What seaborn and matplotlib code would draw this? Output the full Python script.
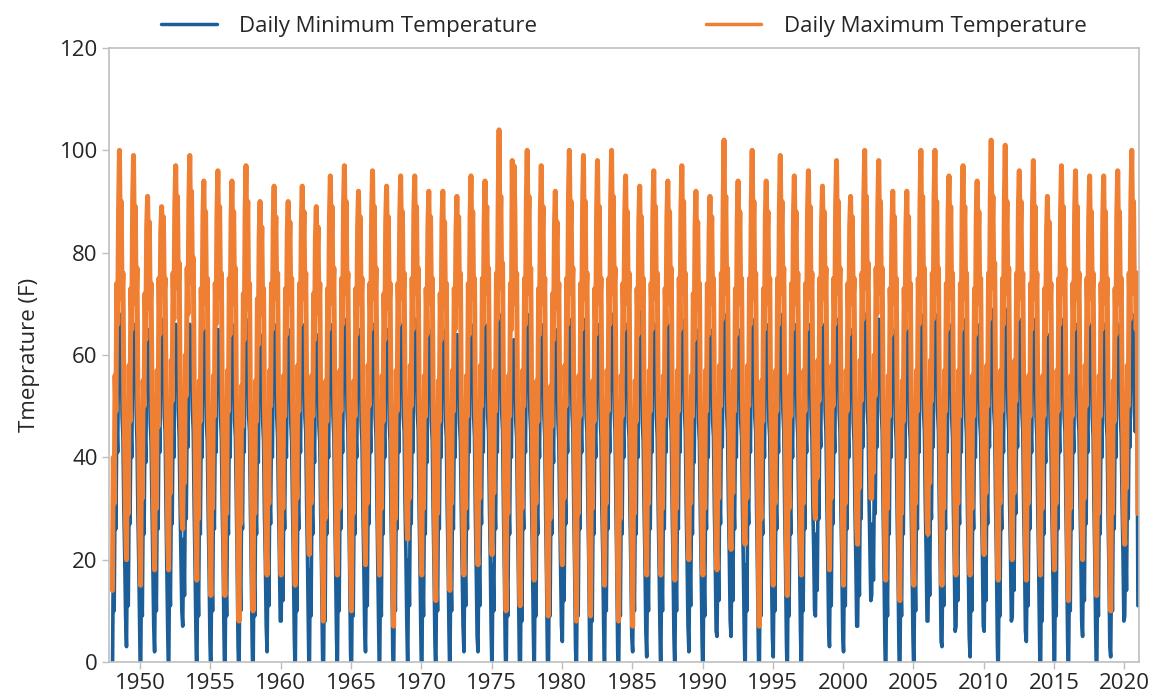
import pandas as pd
import seaborn as sns
import matplotlib.pyplot as plt
import matplotlib.dates as mdates

# years covered, 16 readings per year (deg F)
years = list(range(1948, 2021))
samples_per_year = 16

tmax_rows = [
    [14, 40, 31, 56, 49, 74, 66, 88, 100, 82, 90, 71, 76, 52, 41, 27],  # 1948
    [20, 42, 29, 58, 47, 73, 65, 90, 99, 80, 89, 70, 77, 50, 43, 25],
    [15, 38, 32, 55, 50, 72, 63, 85, 91, 79, 86, 69, 74, 53, 40, 28],
    [18, 41, 30, 57, 46, 75, 64, 84, 89, 81, 87, 72, 75, 51, 42, 24],
    [18, 43, 33, 59, 51, 76, 67, 89, 97, 83, 91, 73, 78, 54, 44, 29],
    [26, 44, 35, 60, 52, 77, 68, 90, 99, 84, 92, 74, 79, 55, 45, 26],
    [16, 39, 28, 55, 47, 73, 65, 87, 94, 80, 88, 70, 75, 50, 39, 23],
    [13, 37, 30, 56, 48, 74, 66, 88, 96, 82, 89, 71, 76, 52, 41, 22],
    [13, 40, 29, 57, 49, 75, 64, 86, 94, 81, 88, 70, 77, 53, 40, 20],
    [8, 36, 27, 54, 46, 72, 63, 88, 97, 80, 90, 69, 74, 51, 38, 21],
    [10, 38, 29, 55, 47, 71, 62, 83, 90, 78, 85, 68, 73, 50, 40, 24],  # 1958
    [17, 41, 31, 57, 50, 74, 65, 86, 93, 81, 87, 71, 76, 52, 42, 25],
    [17, 40, 30, 56, 48, 73, 64, 84, 90, 79, 86, 70, 75, 51, 41, 23],
    [15, 39, 32, 58, 49, 74, 66, 86, 93, 80, 88, 71, 76, 53, 43, 27],
    [21, 42, 31, 56, 48, 72, 63, 83, 89, 78, 85, 68, 74, 50, 39, 20],
    [8, 35, 28, 55, 47, 73, 65, 87, 95, 81, 89, 70, 77, 52, 40, 22],
    [17, 40, 30, 57, 49, 75, 66, 89, 97, 82, 90, 72, 76, 53, 41, 19],
    [10, 37, 29, 55, 48, 73, 64, 85, 92, 80, 87, 70, 75, 51, 42, 26],
    [19, 42, 31, 58, 50, 74, 65, 88, 96, 81, 89, 71, 77, 52, 40, 24],
    [17, 39, 30, 56, 47, 72, 63, 86, 93, 79, 87, 69, 74, 50, 39, 18],
    [7, 36, 28, 57, 49, 74, 66, 87, 95, 82, 88, 71, 76, 53, 44, 28],  # 1968
    [24, 43, 32, 58, 50, 75, 65, 88, 95, 81, 89, 72, 77, 52, 41, 23],
    [17, 40, 30, 56, 48, 73, 64, 85, 92, 80, 87, 70, 75, 51, 40, 21],
    [12, 38, 29, 55, 47, 72, 63, 86, 92, 79, 86, 69, 74, 50, 42, 24],
    [14, 39, 31, 57, 49, 73, 65, 84, 91, 80, 87, 70, 76, 52, 41, 25],
    [17, 41, 30, 56, 48, 74, 64, 87, 95, 81, 88, 71, 75, 51, 40, 23],
    [19, 42, 32, 58, 50, 75, 66, 86, 94, 82, 89, 72, 77, 53, 43, 26],
    [21, 43, 33, 57, 49, 76, 67, 90, 104, 83, 91, 73, 78, 52, 40, 20],
    [10, 37, 29, 56, 48, 74, 65, 98, 86, 97, 88, 70, 76, 51, 39, 19],
    [11, 38, 30, 57, 50, 75, 66, 90, 100, 82, 91, 72, 77, 53, 42, 24],
    [16, 40, 31, 55, 47, 73, 64, 88, 97, 80, 89, 70, 75, 50, 38, 18],  # 1978
    [9, 36, 28, 54, 46, 72, 63, 85, 92, 79, 86, 69, 74, 51, 41, 25],
    [19, 42, 32, 58, 50, 75, 66, 91, 100, 83, 90, 72, 77, 52, 40, 21],
    [8, 37, 29, 56, 48, 74, 65, 89, 99, 82, 90, 71, 76, 53, 42, 20],
    [9, 36, 30, 55, 47, 73, 64, 88, 98, 81, 89, 70, 75, 51, 43, 26],
    [15, 40, 31, 57, 49, 75, 66, 90, 100, 82, 91, 72, 77, 52, 39, 18],
    [8, 36, 28, 56, 48, 74, 65, 87, 95, 81, 88, 70, 76, 50, 40, 22],
    [7, 35, 29, 55, 47, 73, 64, 86, 93, 80, 87, 69, 75, 52, 41, 24],
    [17, 41, 31, 57, 49, 74, 65, 88, 96, 81, 89, 71, 76, 53, 42, 25],
    [17, 40, 30, 56, 48, 73, 66, 87, 94, 80, 88, 70, 77, 51, 40, 23],
    [16, 39, 30, 57, 49, 75, 65, 89, 97, 82, 90, 72, 76, 52, 41, 26],  # 1988
    [20, 42, 31, 56, 48, 72, 63, 85, 92, 79, 86, 69, 74, 50, 39, 22],
    [17, 40, 30, 57, 49, 74, 64, 84, 91, 80, 87, 70, 75, 52, 42, 24],
    [18, 41, 32, 58, 50, 76, 67, 90, 102, 83, 91, 72, 77, 53, 43, 26],
    [22, 43, 33, 57, 49, 73, 64, 86, 94, 80, 88, 70, 75, 51, 41, 25],
    [23, 43, 32, 58, 50, 75, 66, 90, 100, 82, 90, 71, 76, 52, 40, 20],
    [7, 35, 28, 55, 47, 73, 65, 87, 94, 81, 88, 70, 75, 51, 42, 23],
    [15, 39, 31, 57, 49, 75, 66, 89, 99, 82, 90, 72, 77, 53, 41, 22],
    [13, 38, 30, 56, 48, 74, 65, 87, 95, 81, 88, 70, 76, 52, 40, 24],
    [17, 40, 31, 57, 49, 74, 65, 88, 96, 81, 89, 71, 76, 54, 44, 30],
    [28, 46, 36, 59, 51, 75, 66, 86, 93, 81, 88, 71, 77, 55, 45, 27],  # 1998
    [18, 42, 32, 58, 50, 75, 66, 89, 98, 82, 90, 72, 77, 53, 42, 24],
    [15, 40, 31, 57, 49, 74, 64, 85, 91, 80, 87, 70, 75, 51, 41, 26],
    [23, 44, 34, 59, 51, 76, 67, 90, 100, 83, 91, 73, 78, 55, 46, 32],
    [32, 48, 37, 60, 52, 77, 68, 89, 98, 83, 90, 72, 77, 52, 40, 22],
    [16, 39, 30, 56, 48, 73, 64, 85, 92, 80, 87, 70, 75, 51, 40, 21],
    [12, 37, 29, 55, 47, 73, 65, 85, 92, 80, 87, 69, 74, 52, 41, 23],
    [15, 40, 31, 57, 49, 75, 66, 90, 100, 82, 91, 72, 77, 54, 44, 28],
    [25, 45, 35, 59, 51, 76, 67, 91, 100, 83, 90, 72, 77, 52, 40, 22],
    [15, 39, 30, 57, 49, 74, 65, 88, 95, 81, 89, 71, 76, 53, 42, 24],
    [17, 41, 31, 57, 48, 74, 65, 89, 97, 82, 89, 71, 76, 52, 41, 23],  # 2008
    [17, 40, 30, 56, 48, 73, 64, 87, 94, 80, 88, 70, 75, 53, 43, 26],
    [21, 43, 33, 58, 50, 76, 67, 91, 102, 83, 91, 73, 78, 52, 41, 22],
    [16, 39, 31, 57, 49, 75, 66, 90, 101, 82, 90, 72, 77, 54, 44, 27],
    [20, 42, 33, 59, 51, 76, 67, 89, 96, 82, 90, 71, 76, 53, 42, 24],
    [16, 40, 31, 56, 48, 74, 65, 89, 98, 81, 89, 71, 76, 52, 41, 23],
    [17, 40, 30, 56, 48, 73, 64, 84, 91, 79, 86, 69, 74, 51, 42, 25],
    [18, 41, 31, 57, 49, 75, 66, 88, 97, 82, 89, 72, 77, 53, 40, 21],
    [12, 38, 30, 56, 48, 74, 65, 88, 96, 81, 89, 71, 76, 54, 44, 27],
    [20, 42, 32, 58, 50, 75, 66, 87, 95, 81, 88, 71, 76, 52, 40, 22],
    [13, 38, 29, 56, 48, 74, 65, 87, 95, 81, 88, 70, 75, 51, 39, 20],  # 2018
    [10, 37, 29, 55, 47, 73, 64, 88, 96, 81, 88, 70, 75, 53, 43, 27],
    [23, 44, 34, 58, 50, 76, 67, 90, 100, 83, 90, 72, 76, 65, 76, 29],
]

tmin_rows = [
    [-5, 20, 10, 33, 26, 47, 41, 61, 68, 57, 64, 48, 44, 30, 21, 9],  # 1948
    [3, 22, 11, 32, 27, 46, 40, 60, 66, 56, 65, 49, 43, 29, 19, 6],
    [-6, 18, 9, 31, 25, 45, 39, 59, 65, 55, 63, 47, 43, 31, 20, 7],
    [2, 21, 10, 33, 26, 47, 41, 60, 67, 56, 64, 48, 45, 30, 18, 5],
    [-4, 19, 11, 32, 27, 46, 40, 61, 66, 57, 65, 49, 44, 31, 21, 10],
    [7, 24, 13, 34, 28, 48, 42, 62, 66, 58, 64, 49, 45, 30, 19, 6],
    [-5, 18, 9, 31, 25, 45, 40, 59, 65, 55, 63, 47, 43, 29, 18, 4],
    [-3, 19, 10, 32, 26, 46, 41, 60, 65, 56, 64, 48, 44, 30, 20, 5],
    [-6, 17, 9, 31, 25, 46, 40, 60, 66, 56, 63, 47, 44, 31, 19, 3],
    [-4, 18, 10, 32, 26, 47, 41, 61, 67, 57, 64, 48, 45, 30, 18, 4],
    [-5, 19, 9, 31, 25, 45, 39, 58, 64, 55, 62, 47, 43, 29, 20, 7],  # 1958
    [2, 21, 11, 33, 27, 46, 40, 60, 66, 56, 64, 48, 44, 31, 21, 8],
    [8, 22, 12, 32, 26, 46, 40, 59, 65, 56, 63, 47, 43, 30, 19, 5],
    [-3, 19, 10, 32, 26, 47, 41, 60, 66, 57, 64, 48, 45, 31, 20, 6],
    [-6, 18, 9, 31, 25, 45, 39, 59, 64, 55, 62, 46, 43, 29, 18, 3],
    [-8, 16, 8, 31, 25, 46, 40, 60, 66, 56, 64, 48, 44, 30, 19, 5],
    [-2, 19, 10, 32, 26, 47, 41, 61, 67, 57, 65, 49, 45, 30, 18, 2],
    [-4, 18, 9, 31, 25, 45, 40, 59, 65, 55, 63, 47, 43, 30, 20, 7],
    [2, 21, 11, 33, 27, 47, 41, 60, 66, 56, 64, 48, 44, 31, 19, 6],
    [-5, 18, 9, 31, 25, 46, 40, 59, 65, 55, 63, 47, 43, 29, 18, 2],
    [-3, 17, 10, 32, 26, 47, 41, 60, 66, 57, 64, 48, 45, 31, 21, 8],  # 1968
    [-2, 20, 11, 33, 27, 47, 41, 61, 67, 57, 65, 49, 45, 30, 19, 5],
    [-6, 18, 9, 31, 25, 45, 39, 59, 65, 55, 63, 47, 43, 29, 18, 4],
    [-3, 19, 10, 32, 26, 46, 40, 60, 65, 56, 63, 47, 44, 30, 20, 6],
    [-4, 18, 10, 32, 26, 46, 40, 59, 64, 55, 63, 47, 43, 30, 19, 7],
    [2, 21, 11, 32, 26, 47, 41, 60, 66, 56, 64, 48, 44, 29, 18, 5],
    [2, 21, 11, 33, 27, 47, 41, 61, 66, 57, 64, 48, 45, 31, 20, 6],
    [-3, 19, 10, 32, 26, 47, 41, 61, 68, 57, 65, 49, 45, 30, 18, 3],
    [-5, 17, 9, 31, 25, 46, 40, 62, 60, 63, 58, 47, 44, 29, 17, 2],
    [-7, 16, 8, 32, 26, 47, 41, 61, 68, 57, 65, 49, 45, 31, 20, 6],
    [-4, 18, 9, 31, 25, 46, 40, 60, 66, 56, 64, 48, 44, 29, 17, 1],  # 1978
    [-6, 17, 9, 31, 25, 45, 39, 59, 65, 55, 63, 47, 43, 30, 19, 7],
    [4, 22, 12, 33, 27, 47, 41, 61, 67, 57, 65, 49, 45, 30, 18, 3],
    [-3, 18, 9, 32, 26, 47, 41, 61, 67, 57, 64, 48, 45, 31, 20, 4],
    [-8, 16, 8, 31, 25, 46, 40, 60, 66, 56, 64, 48, 44, 30, 21, 7],
    [-2, 19, 10, 32, 26, 47, 41, 61, 68, 57, 65, 49, 45, 30, 18, 2],
    [-5, 17, 9, 31, 25, 46, 40, 60, 66, 56, 63, 47, 44, 29, 19, 5],
    [2, 19, 10, 31, 25, 45, 40, 59, 70, 55, 63, 47, 43, 30, 20, 6],
    [1, 20, 10, 32, 26, 47, 41, 60, 66, 56, 64, 48, 44, 31, 20, 7],
    [-3, 19, 10, 32, 26, 46, 41, 60, 66, 56, 64, 48, 45, 30, 19, 5],
    [-2, 19, 10, 32, 26, 47, 41, 61, 67, 57, 65, 49, 45, 30, 20, 7],  # 1988
    [2, 21, 11, 31, 25, 45, 39, 59, 65, 55, 63, 47, 43, 29, 18, 4],
    [-4, 18, 9, 32, 26, 46, 40, 59, 65, 56, 63, 47, 44, 30, 20, 6],
    [5, 22, 12, 33, 27, 48, 42, 62, 68, 58, 65, 49, 45, 31, 21, 8],
    [5, 23, 12, 32, 26, 46, 40, 60, 65, 56, 63, 47, 44, 30, 19, 6],
    [-3, 19, 10, 33, 27, 47, 41, 61, 67, 57, 64, 48, 45, 30, 18, 3],
    [-6, 17, 9, 31, 25, 46, 40, 60, 66, 56, 63, 47, 44, 29, 19, 5],
    [1, 20, 10, 32, 26, 47, 41, 61, 68, 57, 65, 49, 45, 30, 19, 4],
    [-4, 18, 9, 31, 25, 46, 40, 60, 66, 56, 64, 48, 44, 30, 20, 6],
    [-3, 19, 10, 32, 26, 46, 41, 60, 66, 56, 64, 48, 44, 31, 22, 10],
    [9, 25, 14, 34, 28, 48, 42, 61, 66, 57, 64, 49, 45, 32, 21, 7],  # 1998
    [3, 22, 11, 33, 27, 47, 41, 61, 67, 57, 65, 49, 45, 30, 20, 6],
    [2, 21, 11, 32, 26, 46, 40, 59, 65, 55, 63, 47, 43, 30, 20, 7],
    [7, 24, 13, 34, 28, 48, 42, 62, 68, 58, 65, 49, 46, 32, 22, 12],
    [13, 27, 16, 35, 29, 48, 42, 62, 67, 58, 65, 49, 45, 30, 19, 4],
    [-5, 18, 9, 31, 25, 46, 40, 59, 65, 55, 63, 47, 43, 29, 18, 3],
    [-6, 17, 9, 31, 25, 45, 40, 59, 65, 55, 63, 47, 43, 30, 19, 5],
    [-3, 19, 10, 32, 26, 47, 41, 61, 68, 57, 65, 49, 45, 31, 21, 8],
    [8, 24, 13, 34, 28, 48, 42, 62, 68, 58, 65, 49, 45, 30, 19, 4],
    [3, 21, 11, 32, 26, 47, 41, 60, 66, 56, 64, 48, 44, 30, 20, 6],
    [7, 23, 12, 33, 27, 47, 41, 61, 67, 57, 64, 48, 44, 30, 19, 5],  # 2008
    [1, 20, 10, 32, 26, 46, 40, 60, 66, 56, 63, 47, 44, 31, 21, 7],
    [6, 23, 12, 33, 27, 48, 42, 62, 69, 58, 65, 49, 46, 31, 20, 4],
    [-4, 18, 9, 32, 26, 47, 41, 62, 69, 58, 65, 49, 45, 31, 21, 8],
    [9, 25, 14, 35, 29, 48, 42, 61, 67, 57, 65, 49, 45, 30, 20, 6],
    [4, 21, 11, 32, 26, 47, 41, 61, 67, 57, 64, 48, 44, 30, 19, 5],
    [-7, 16, 8, 31, 25, 45, 39, 59, 64, 55, 62, 47, 43, 30, 20, 7],
    [-5, 17, 9, 32, 26, 47, 41, 61, 67, 57, 64, 48, 45, 31, 19, 4],
    [-3, 18, 10, 32, 26, 47, 41, 61, 66, 57, 64, 48, 45, 32, 22, 8],
    [5, 22, 12, 33, 27, 47, 41, 60, 66, 56, 64, 48, 44, 30, 19, 5],
    [-6, 17, 9, 31, 25, 46, 40, 60, 66, 56, 63, 47, 44, 29, 18, 3],  # 2018
    [1, 19, 10, 32, 26, 46, 40, 60, 66, 56, 64, 48, 44, 31, 21, 8],
    [9, 25, 14, 34, 28, 48, 42, 62, 68, 58, 65, 49, 45, 52, 50, 11],
]

min_label = 'Daily Minimum Temperature'
max_label = 'Daily Maximum Temperature'

# long table for seaborn
records = []
for yr, lo_row, hi_row in zip(years, tmin_rows, tmax_rows):
    start = pd.Timestamp(yr, 1, 1)
    for i in range(samples_per_year):
        day = start + pd.Timedelta(days=(i + 0.5) * 365.25 / samples_per_year)
        records.append((day, lo_row[i], min_label))
        records.append((day, hi_row[i], max_label))
df = pd.DataFrame(records, columns=['date', 'temp', 'series'])

sns.set_style('white')
plt.rcParams['font.family'] = ['Open Sans', 'DejaVu Sans']

fig = plt.figure(figsize=(11.58, 7), dpi=100)
ax = fig.add_axes([0.0940, 0.0543, 0.8893, 0.8771])

sns.lineplot(data=df, x='date', y='temp', hue='series',
             hue_order=[min_label, max_label],
             palette=['#1b5e98', '#ee7f33'],
             estimator=None, sort=True, linewidth=2.6, ax=ax)
# thicker max line so it covers the band as in the original
ax.lines[1].set_linewidth(3.6)

ax.set_xlim(pd.Timestamp('1947-10-12'), pd.Timestamp('2021-01-08'))
ax.set_ylim(0, 120)
ax.set_yticks(range(0, 121, 20))
ax.xaxis.set_major_locator(mdates.YearLocator(5))
ax.xaxis.set_major_formatter(mdates.DateFormatter('%Y'))

ax.set_xlabel('')
ax.set_ylabel('Tmeprature (F)', fontsize=16, labelpad=14)
ax.tick_params(axis='both', labelsize=16, length=5, width=1, color='#bfbfbf',
               direction='out', bottom=True, left=True, pad=3)
for side in ['left', 'right', 'top', 'bottom']:
    ax.spines[side].set_color('#bfbfbf')
    ax.spines[side].set_linewidth(1.2)

sns.move_legend(ax, 'lower center', bbox_to_anchor=(0.5, 0.985), ncol=2,
                title=None, frameon=False, fontsize=16, columnspacing=7.6,
                handlelength=2.5, handletextpad=1.0)
for line in ax.get_legend().get_lines():
    line.set_linewidth(2.5)

plt.savefig('out.png', dpi=100)
